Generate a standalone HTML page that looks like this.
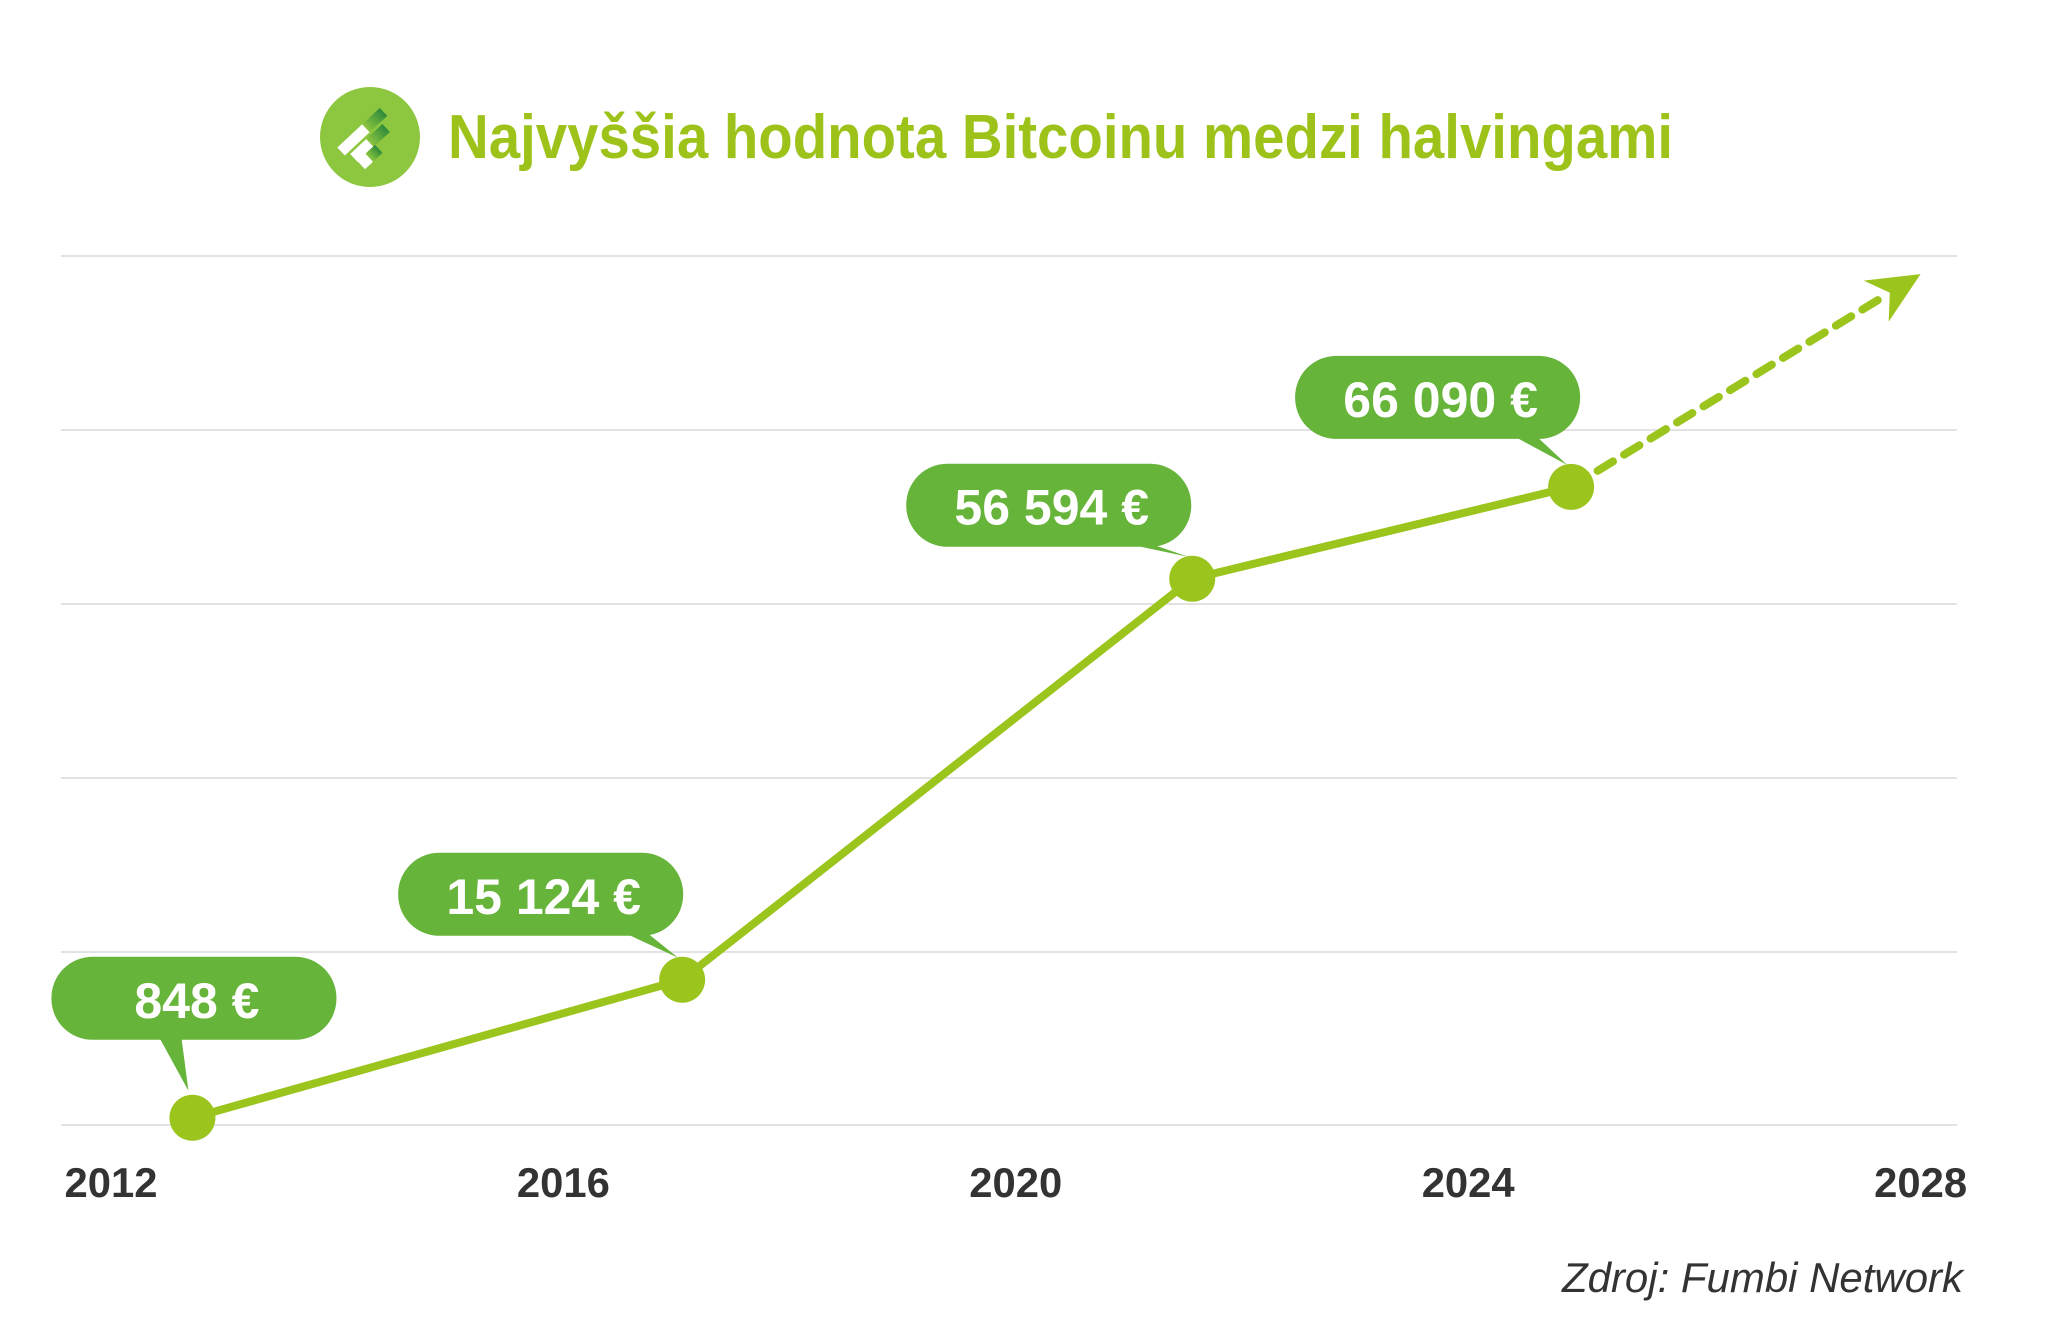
<!DOCTYPE html>
<html lang="sk">
<head>
<meta charset="utf-8">
<title>Najvyššia hodnota Bitcoinu medzi halvingami</title>
<style>
  html,body{margin:0;padding:0;background:#ffffff;}
  svg{display:block;}
</style>
</head>
<body>
<svg id="chart" xmlns="http://www.w3.org/2000/svg" width="2048" height="1331" viewBox="0 0 2048 1331">
  <defs>
    <linearGradient id="barGrad" x1="0" y1="0" x2="1" y2="0">
      <stop offset="0" stop-color="#8dc63f"/>
      <stop offset="1" stop-color="#2e8b3a"/>
    </linearGradient>
  </defs>
  <rect x="0" y="0" width="2048" height="1331" fill="#ffffff"/>

  <g>
    <circle cx="370" cy="137" r="50" fill="#8dc63f"/>
    <g transform="translate(363,131) rotate(-43)">
      <rect x="-30" y="-5.5" width="34" height="11" fill="#ffffff"/>
      <rect x="4" y="-5.5" width="24" height="11" fill="url(#barGrad)"/>
    </g>
    <g transform="translate(370,143) rotate(-43)">
      <rect x="-22" y="-5.5" width="22" height="11" fill="#ffffff"/>
      <rect x="0" y="-5.5" width="22" height="11" fill="url(#barGrad)"/>
    </g>
    <g transform="translate(370,157) rotate(-43)">
      <rect x="-12" y="-5.5" width="11" height="11" fill="#ffffff"/>
      <rect x="-1" y="-5.5" width="13" height="11" fill="url(#barGrad)"/>
    </g>
  </g>
  <text x="448" y="158" font-family="Liberation Sans, sans-serif" font-weight="bold" font-size="62" fill="#9dc31b" textLength="1225" lengthAdjust="spacingAndGlyphs">Najvyššia hodnota Bitcoinu medzi halvingami</text>

  <g id="grid"></g>
  <g id="xaxis"></g>
  <g id="series"></g>
  <g id="labels"></g>

  <text x="1562" y="1292" font-family="Liberation Sans, sans-serif" font-style="italic" font-size="42" fill="#333333" textLength="401" lengthAdjust="spacingAndGlyphs">Zdroj: Fumbi Network</text>
</svg>
<script>
const years = [2012.72, 2017.05, 2021.56, 2024.91];
const prices = [848, 15124, 56594, 66090];
const priceLabels = ["848 €", "15 124 €", "56 594 €", "66 090 €"];
const projectionYear = [2028.0];
const projectionValue = [88100];
const tickYears = [2012, 2016, 2020, 2024, 2028];
const tickLabels = ["2012", "2016", "2020", "2024", "2028"];
const gridValues = [0, 18000, 36000, 54000, 72000, 90000];

const NS = "http://www.w3.org/2000/svg";
const xScale = y => 111 + (y - 2012) * 113.1;
const yScale = v => 1126 - v * 0.00967;
function mk(tag, attrs, parent) {
  const e = document.createElementNS(NS, tag);
  for (const k in attrs) e.setAttribute(k, attrs[k]);
  parent.appendChild(e);
  return e;
}
const grid = document.getElementById('grid');
gridValues.forEach(v => {
  const y = Math.round(yScale(v)) + (v === 0 ? -1 : 0);
  const l = mk('line', {x1: 61, x2: 1957, y1: y, y2: y, stroke: '#e2e2e2', 'stroke-width': 2}, grid);
  
  
});
const xaxis = document.getElementById('xaxis');
tickYears.forEach((t, i) => {
  const tx = mk('text', {x: xScale(t), y: 1197, 'text-anchor': 'middle', 'font-family': 'Liberation Sans, sans-serif', 'font-weight': 'bold', 'font-size': 42, fill: '#333333', textLength: 93, lengthAdjust: 'spacingAndGlyphs'}, xaxis);
  tx.textContent = tickLabels[i];
  
  
});
const series = document.getElementById('series');
const pts = years.map((y, i) => [xScale(y), yScale(prices[i])]);
const line = mk('polyline', {points: pts.map(p => p.join(',')).join(' '), fill: 'none', stroke: '#9bc41c', 'stroke-width': 8, 'stroke-linejoin': 'round'}, series);


const last = pts[pts.length - 1];
const tip = [xScale(projectionYear[0]), yScale(projectionValue[0])];
const ang = Math.atan2(tip[1] - last[1], tip[0] - last[0]);
const back = [tip[0] - Math.cos(ang) * 40, tip[1] - Math.sin(ang) * 40];
const dash = mk('line', {x1: last[0], y1: last[1], x2: back[0], y2: back[1], stroke: '#9bc41c', 'stroke-width': 8, 'stroke-dasharray': '18 13', 'stroke-linecap': 'round'}, series);


const ca = Math.cos(ang), sa = Math.sin(ang);
const head = [
  tip,
  [tip[0] - ca * 52 - sa * 24, tip[1] - sa * 52 + ca * 24],
  [tip[0] - ca * 36, tip[1] - sa * 36],
  [tip[0] - ca * 52 + sa * 24, tip[1] - sa * 52 - ca * 24]
];
const ah = mk('polygon', {points: head.map(p => p.join(',')).join(' '), fill: '#9bc41c'}, series);


pts.forEach(p => {
  const c = mk('circle', {cx: p[0], cy: p[1], r: 23, fill: '#9bc41c'}, series);
  
  
});
const bubbleOffsets = [[-141, -161], [-284, -127], [-286, -115], [-276, -131]];
const tailOffsets = [[-33, -16], [-56, -32], [-61, -35], [-56, -39]];
const labels = document.getElementById('labels');
pts.forEach((p, i) => {
  const bx = p[0] + bubbleOffsets[i][0], by = p[1] + bubbleOffsets[i][1];
  const w = 285, h = 83;
  const g = mk('g', {}, labels);
  
  
  mk('rect', {x: bx, y: by, width: w, height: h, rx: 41, ry: 41, fill: '#67b43a'}, g);
  const t0 = p[0] + tailOffsets[i][0];
  mk('polygon', {points: `${t0},${by + h - 2} ${t0 + 22},${by + h - 2} ${p[0] - 4},${p[1] - 22 - (i === 0 ? 5 : 0)}`, fill: '#67b43a'}, g);
  const tx = mk('text', {x: bx + w / 2 + 3, y: by + 61, 'text-anchor': 'middle', 'font-family': 'Liberation Sans, sans-serif', 'font-weight': 'bold', 'font-size': 50, fill: '#ffffff'}, g);
  tx.textContent = priceLabels[i];
  
  
});
</script>
</body>
</html>
